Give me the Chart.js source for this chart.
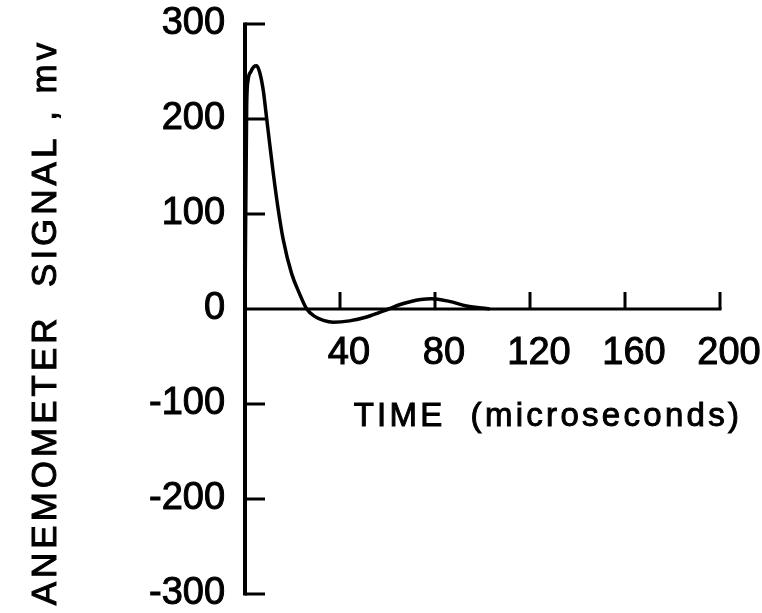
<!DOCTYPE html>
<html lang="en">
<head>
    <meta charset="UTF-8">
    <title>Anemometer Signal</title>
    <style>
        body {
            margin: 0;
            background-color: white;
        }
        .chart-container {
            width: 762px;
            height: 613px;
        }
    </style>
</head>
<body>
    <div class="chart-container">
        <canvas id="signalChart"></canvas>
    </div>

    <script src="https://cdn.jsdelivr.net/npm/chart.js"></script>

    <script>
        // time in microseconds, signal in mv
        const times = [0, 0.7, 1.3, 2.5, 3.7, 4.9, 6.2, 7.7, 9.1, 10.2, 11.9, 13.8, 16.1, 19.6, 22.9, 26, 29.5, 33, 37.2, 44, 51.2, 60.4, 65, 69.5, 74, 78.6, 86, 93.3, 103];
        const signal = [0, 213, 241, 250, 255, 256, 249, 230, 201, 178, 143, 108, 73, 37.5, 16.5, 0, -8, -12, -14, -12.5, -8.4, 0, 4.5, 7.7, 10, 10.8, 8, 3.2, 0];
        const xTicks = [0, 40, 80, 120, 160, 200];
        const yTicks = [-300, -200, -100, 0, 100, 200, 300];

        const xTitle = 'TIME  (microseconds)';
        const yTitle = 'ANEMOMETER  SIGNAL , mv';

        const ink = '#000';
        const fontFamily = '"Liberation Sans", Arial, sans-serif';

        // hand drawn style axes: x axis along y = 0, ticks pointing inward
        const axesPlugin = {
            id: 'axes',
            beforeDatasetsDraw(chart) {
                const ctx = chart.ctx;
                const x = chart.scales.x;
                const y = chart.scales.y;
                const x0 = x.getPixelForValue(0);
                const y0 = y.getPixelForValue(0);
                ctx.save();
                ctx.strokeStyle = ink;
                ctx.lineCap = 'butt';
                ctx.lineWidth = 4;
                ctx.beginPath();
                ctx.moveTo(x0, y.getPixelForValue(300) - 1.5);
                ctx.lineTo(x0, y.getPixelForValue(-300) + 1.5);
                ctx.stroke();
                ctx.lineWidth = 3;
                ctx.beginPath();
                ctx.moveTo(x0, y0);
                ctx.lineTo(x.getPixelForValue(200) + 1.5, y0);
                ctx.stroke();
                yTicks.forEach(v => {
                    if (v === 0) return;
                    const py = y.getPixelForValue(v);
                    ctx.beginPath();
                    ctx.moveTo(x0, py);
                    ctx.lineTo(x0 + 20, py);
                    ctx.stroke();
                });
                xTicks.forEach(v => {
                    if (v === 0) return;
                    const px = x.getPixelForValue(v);
                    ctx.beginPath();
                    ctx.moveTo(px, y0);
                    ctx.lineTo(px, y0 - 17);
                    ctx.stroke();
                });
                ctx.restore();
            },
            afterDraw(chart) {
                const ctx = chart.ctx;
                ctx.save();
                ctx.fillStyle = ink;
                ctx.strokeStyle = ink;
                ctx.lineWidth = 1;
                ctx.textAlign = 'center';
                ctx.textBaseline = 'middle';
                ctx.font = '33px ' + fontFamily;
                ctx.letterSpacing = '3.3px';
                ctx.fillText(xTitle, 548, 417);
                ctx.strokeText(xTitle, 548, 417);
                ctx.translate(46, 322);
                ctx.rotate(-Math.PI / 2);
                ctx.font = '35px ' + fontFamily;
                ctx.letterSpacing = '4px';
                ctx.fillText(yTitle, 0, 0);
                ctx.strokeText(yTitle, 0, 0);
                ctx.restore();
            }
        };

        // axes sit inside the plot, so they should not push the plot area in
        const noPadding = axis => {
            axis.paddingTop = 0;
            axis.paddingBottom = 0;
            axis.paddingLeft = 0;
            axis.paddingRight = 0;
        };

        window.onload = function() {
            const ctx = document.getElementById('signalChart').getContext('2d');
            new Chart(ctx, {
                type: 'line',
                data: {
                    datasets: [{
                        data: times.map((t, i) => ({ x: t, y: signal[i] })),
                        borderColor: ink,
                        borderWidth: 3.5,
                        pointRadius: 0,
                        fill: false,
                        cubicInterpolationMode: 'monotone'
                    }]
                },
                options: {
                    responsive: true,
                    maintainAspectRatio: false,
                    animation: false,
                    layout: {
                        padding: { left: 245, right: 42, top: 24, bottom: 19 }
                    },
                    plugins: {
                        legend: { display: false },
                        tooltip: { enabled: false }
                    },
                    scales: {
                        x: {
                            type: 'linear',
                            position: { y: 0 },
                            min: 0,
                            max: 200,
                            grid: { display: false, drawTicks: false },
                            border: { display: false },
                            afterBuildTicks: axis => {
                                axis.ticks = xTicks.map(v => ({ value: v }));
                            },
                            afterFit: noPadding,
                            ticks: {
                                color: ink,
                                padding: 22,
                                labelOffset: 9,
                                maxRotation: 0,
                                textStrokeColor: ink,
                                textStrokeWidth: 1,
                                font: { family: fontFamily, size: 38 },
                                callback: v => v === 0 ? '' : v
                            }
                        },
                        y: {
                            type: 'linear',
                            // labels sit a little left of the axis line
                            position: { x: -8.4 },
                            min: -300,
                            max: 300,
                            grid: { display: false, drawTicks: false },
                            border: { display: false },
                            afterBuildTicks: axis => {
                                axis.ticks = yTicks.map(v => ({ value: v }));
                            },
                            afterFit: noPadding,
                            ticks: {
                                color: ink,
                                padding: 0,
                                textStrokeColor: ink,
                                textStrokeWidth: 1,
                                font: { family: fontFamily, size: 38 }
                            }
                        }
                    }
                },
                plugins: [axesPlugin]
            });
        };
    </script>
</body>
</html>
